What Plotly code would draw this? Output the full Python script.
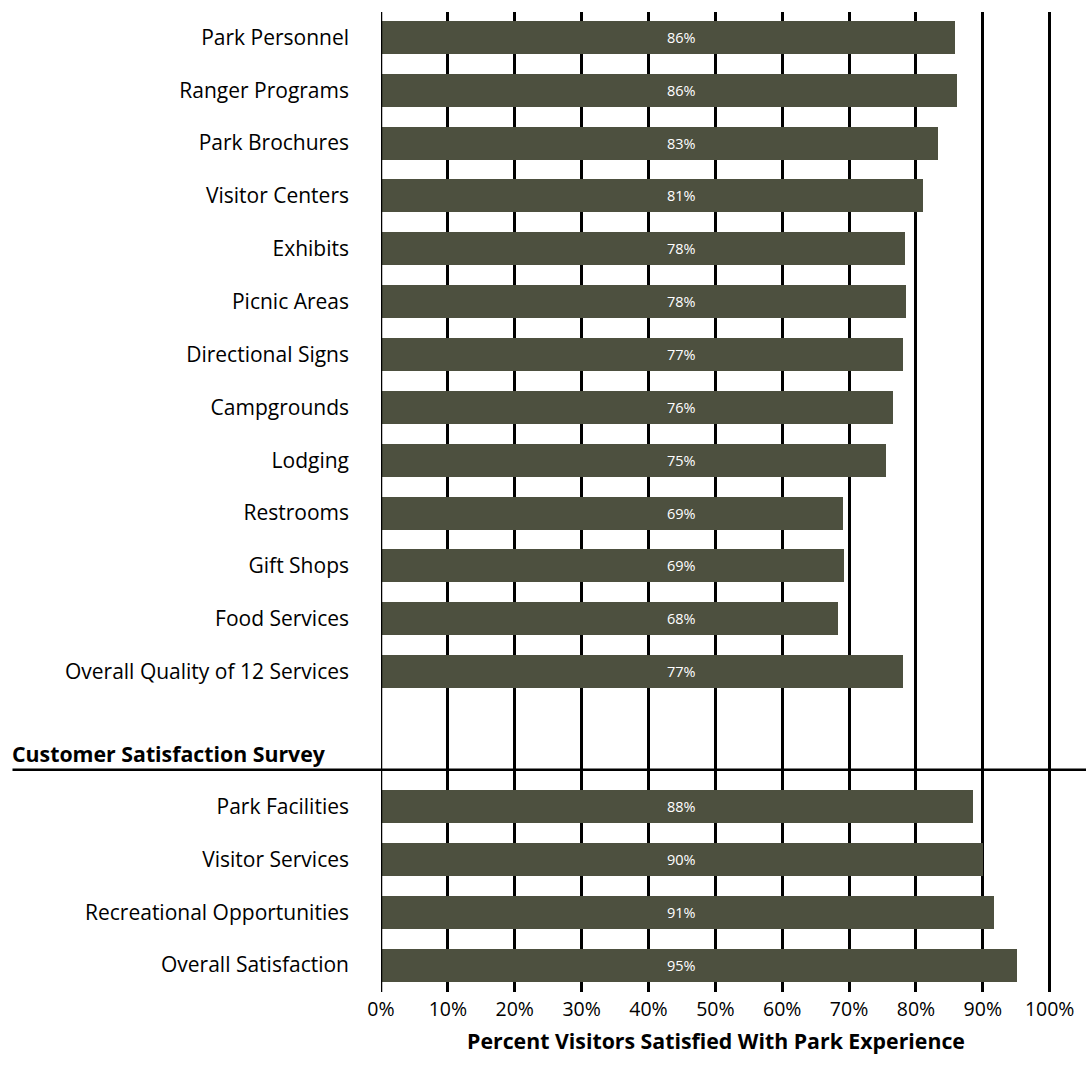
import plotly.graph_objects as go

top_categories = ["Park Personnel", "Ranger Programs", "Park Brochures", "Visitor Centers",
                  "Exhibits", "Picnic Areas", "Directional Signs", "Campgrounds", "Lodging",
                  "Restrooms", "Gift Shops", "Food Services", "Overall Quality of 12 Services"]
top_values = [85.9, 86.1, 83.3, 81.0, 78.3, 78.5, 78.0, 76.5, 75.5, 69.1, 69.2, 68.3, 78.0]
top_labels = ["86%", "86%", "83%", "81%", "78%", "78%", "77%", "76%", "75%", "69%", "69%", "68%", "77%"]

bottom_categories = ["Park Facilities", "Visitor Services", "Recreational Opportunities", "Overall Satisfaction"]
bottom_values = [88.5, 90.0, 91.7, 95.1]
bottom_labels = ["88%", "90%", "91%", "95%"]

section_title = "Customer Satisfaction Survey"
x_title = "Percent Visitors Satisfied With Park Experience"
tick_vals = [0, 10, 20, 30, 40, 50, 60, 70, 80, 90, 100]
tick_text = [f"{v}%" for v in tick_vals]

BAR_COLOR = "#4d503f"
FONT = "Open Sans"
GAP = 2.55

top_pos = list(range(len(top_categories)))
bottom_pos = [len(top_categories) - 1 + GAP + i for i in range(len(bottom_categories))]
positions = top_pos + bottom_pos
cats = top_categories + bottom_categories
vals = top_values + bottom_values
labels = top_labels + bottom_labels

fig = go.Figure()
fig.add_trace(go.Bar(
    x=vals, y=positions, orientation="h", width=0.625,
    marker=dict(color=BAR_COLOR, line=dict(width=0)),
    hoverinfo="skip", showlegend=False,
))

for p, lab in zip(positions, labels):
    fig.add_annotation(x=45, y=p, text=lab, showarrow=False,
                       font=dict(family=FONT, size=14.5, color="white"),
                       xanchor="center", yanchor="middle")

sep_y = len(top_categories) - 1 + 1.857
fig.add_shape(type="line", xref="paper", yref="y", x0=-0.55, x1=1.06, y0=sep_y, y1=sep_y,
              line=dict(color="black", width=2.5))
fig.add_annotation(xref="paper", yref="y", x=-0.553, y=len(top_categories) - 1 + 1.55,
                   text=f"<b>{section_title}</b>", showarrow=False, xanchor="left", yanchor="middle",
                   font=dict(family=FONT, size=21.3, color="black"))

fig.update_layout(
    width=1086, height=1066,
    margin=dict(l=381, r=35, t=12, b=74),
    paper_bgcolor="white", plot_bgcolor="white",
    bargap=0,
    font=dict(family=FONT, size=20, color="black"),
    xaxis=dict(range=[0, 100.2], tickvals=tick_vals, ticktext=tick_text, showgrid=True,
               gridcolor="black", gridwidth=2.5, zeroline=False, showline=False,
               ticks="", ticklabelstandoff=3, tickfont=dict(family=FONT, size=19.5, color="black"),
               title=dict(text=f"<b>{x_title}</b>", font=dict(family=FONT, size=21.3, color="black"), standoff=13),
               fixedrange=True),
    yaxis=dict(range=[18.06, -0.48], tickvals=positions, ticktext=cats, showgrid=False,
               zeroline=False, showline=False, ticks="", ticklabelstandoff=31,
               tickfont=dict(family=FONT, size=21, color="black"), fixedrange=True),
)
fig.add_shape(type="line", xref="x", yref="paper", x0=0, x1=0, y0=0, y1=1,
              line=dict(color="black", width=2.5), layer="above")

fig.write_html("out.html")
